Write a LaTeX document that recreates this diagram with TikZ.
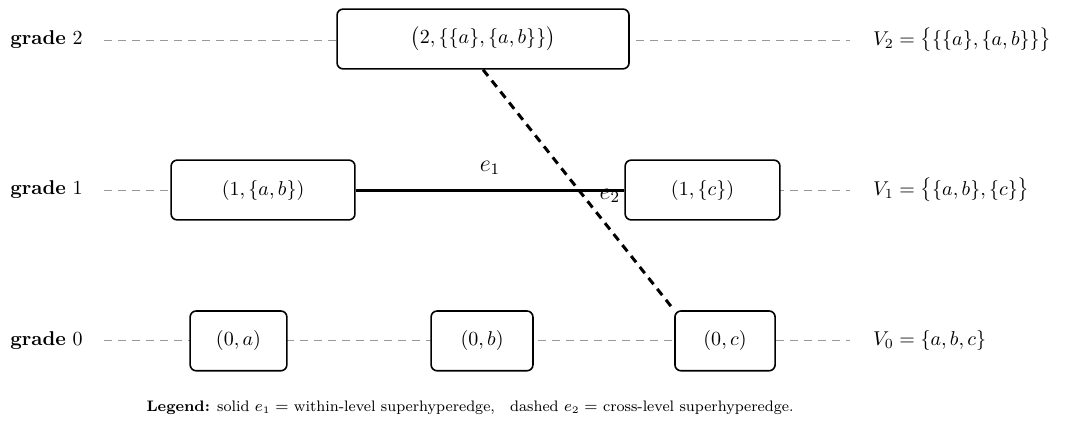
\documentclass[tikz,border=0pt]{standalone}
\usepackage{amsmath,amsfonts,amssymb}
\usetikzlibrary{positioning,calc}
\begin{document}
\begin{tikzpicture}[box/.style={draw, thick, rounded corners=3pt, fill=white, minimum height=1.05cm},
		levelline/.style={draw=black!40, dash pattern=on 4pt off 3pt},
		within/.style={draw, line width=1.5pt},
		cross/.style={draw, line width=1.5pt, dash pattern=on 4pt off 3pt},
		elabel/.style={font=\large}]
			\useasboundingbox (0,0) rectangle (18.96,-7.715);
			\node[anchor=west] (g2) at (0.06,-0.703) {\textbf{grade} $2$};
			\node[anchor=west] (g1) at (0.06,-3.339) {\textbf{grade} $1$};
			\node[anchor=west] (g0) at (0.06,-5.99) {\textbf{grade} $0$};
			\node[anchor=west] (V2) at (15.22,-0.703) {$V_2=\bigl\{\{\{a\},\{a,b\}\}\bigr\}$};
			\node[anchor=west] (V1) at (15.22,-3.339) {$V_1=\bigl\{\{a,b\},\{c\}\bigr\}$};
			\node[anchor=west] (V0) at (15.22,-5.99) {$V_0=\{a,b,c\}$};
			\coordinate (l2) at (1.828,-0.703);
			\coordinate (r2) at (14.937,-0.703);
			\coordinate (l1) at (1.828,-3.339);
			\coordinate (r1) at (14.937,-3.339);
			\coordinate (l0) at (1.828,-5.99);
			\coordinate (r0) at (14.937,-5.99);
			\draw[levelline] (l2) -- (r2);
			\draw[levelline] (l1) -- (r1);
			\draw[levelline] (l0) -- (r0);
			\node[box, minimum width=5.13cm] (v2) at (8.488,-0.685) {$\bigl(2,\{\{a\},\{a,b\}\}\bigr)$};
			\node[box, minimum width=3.23cm] (ab1) at (4.622,-3.339) {$(1,\{a,b\})$};
			\node[box, minimum width=2.72cm] (c1) at (12.345,-3.339) {$(1,\{c\})$};
			\node[box, minimum width=1.70cm] (a0) at (4.191,-5.99) {$(0,a)$};
			\node[box, minimum width=1.79cm] (b0) at (8.470,-5.99) {$(0,b)$};
			\node[box, minimum width=1.76cm] (c0) at (12.74,-5.99) {$(0,c)$};
			\draw[within] (ab1) -- (c1);
			\node[elabel, above=4pt] (e1) at ($(ab1.east)!0.5!(c1.west)$) {$e_1$};
			\draw[cross] (v2.south) -- (c0.north west);
			\node[elabel, right=7pt, yshift=-3pt] (e2) at ($(v2.south)!0.5!(c0.north west)$) {$e_2$};
			\node[font=\fontsize{7.6}{9}\selectfont] (legend) at (8.26,-7.16) {\textbf{Legend:} solid $e_1 =$ within-level superhyperedge,\quad dashed $e_2 =$ cross-level superhyperedge.};
		\end{tikzpicture}
\end{document}
